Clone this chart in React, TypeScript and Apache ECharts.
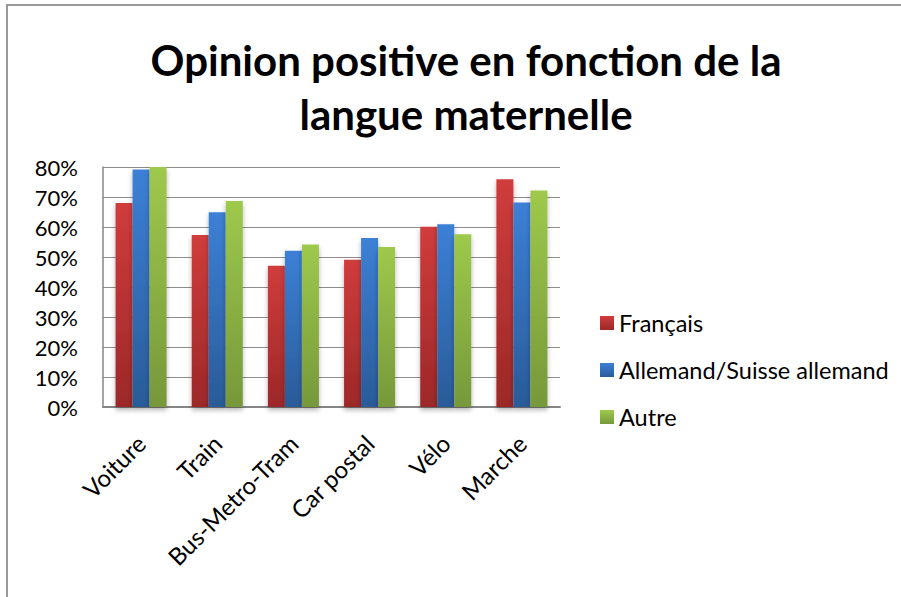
import React, { useEffect, useRef } from "react";
import * as echarts from "echarts";

const categories = ["Voiture", "Train", "Bus-Metro-Tram", "Car postal", "Vélo", "Marche"];
const seriesNames = ["Français", "Allemand/Suisse allemand", "Autre"];
const francais = [0.68, 0.573, 0.471, 0.491, 0.601, 0.759];
const allemand = [0.792, 0.649, 0.521, 0.563, 0.609, 0.682];
const autre = [0.80, 0.687, 0.542, 0.533, 0.576, 0.722];
const yTicks = { min: 0, max: 0.8, interval: 0.1 };

const FONT = "Lato, 'Noto Sans', sans-serif";

const grad = (top: string, bottom: string) =>
  new echarts.graphic.LinearGradient(0, 0, 0, 1, [
    { offset: 0, color: top },
    { offset: 1, color: bottom },
  ]);

const colorsTop = ["#d03c3c", "#3c80d6", "#9ec94c"];
const colorsBottom = ["#9c2828", "#2a5b98", "#76983a"];

export default function App() {
  const ref = useRef<HTMLDivElement>(null);
  useEffect(() => {
    if (!ref.current) return;
    const chart = echarts.init(ref.current, undefined, { renderer: "svg" });
    const values = [francais, allemand, autre];
    chart.setOption({
      animation: false,
      backgroundColor: "#ffffff",
      title: {
        text: "Opinion positive en fonction de la\nlangue maternelle",
        left: 466,
        top: 33,
        textAlign: "center",
        padding: 0,
        textStyle: {
          fontFamily: FONT,
          fontWeight: "bold",
          fontSize: 42,
          lineHeight: 54,
          color: "#000",
        },
      },
      graphic: [
        {
          type: "rect",
          shape: { x: 7, y: 5, width: 1200, height: 1200 },
          style: { fill: "none", stroke: "#999999", lineWidth: 2 },
          silent: true,
        },
      ],
      legend: {
        orient: "vertical",
        left: 600,
        top: 311,
        padding: 0,
        itemWidth: 14,
        itemHeight: 14,
        itemGap: 23,
        icon: "rect",
        data: seriesNames,
        textStyle: { fontFamily: FONT, fontSize: 23.5, lineHeight: 23, color: "#000" },
      },
      grid: { left: 103, right: 341, top: 167, bottom: 190, containLabel: false },
      xAxis: {
        type: "category",
        data: categories,
        axisLine: { show: true, lineStyle: { color: "#868686", width: 2 } },
        axisTick: { show: false },
        axisLabel: {
          rotate: 45,
          margin: 32,
          fontFamily: FONT,
          fontSize: 24,
          color: "#000",
          interval: 0,
        },
      },
      yAxis: {
        type: "value",
        min: yTicks.min,
        max: yTicks.max,
        interval: yTicks.interval,
        axisLine: { show: true, lineStyle: { color: "#868686", width: 1.5 } },
        axisTick: { show: false },
        axisLabel: {
          margin: 25,
          fontFamily: FONT,
          fontSize: 22,
          color: "#000",
          formatter: (v: number) => Math.round(v * 100) + "%",
        },
        splitLine: { show: true, lineStyle: { color: "#8c8c8c", width: 1 } },
      },
      series: seriesNames.map((name, i) => ({
        name,
        type: "bar",
        data: values[i],
        barGap: "0%",
        barCategoryGap: "33%",
        itemStyle: {
          color: grad(colorsTop[i], colorsBottom[i]),
          shadowBlur: 5,
          shadowColor: "rgba(0,0,0,0.3)",
          shadowOffsetY: 3,
        },
      })),
    });
    return () => chart.dispose();
  }, []);
  return (
    <div
      ref={ref}
      style={{ position: "absolute", left: 0, top: 0, width: 901, height: 597 }}
    />
  );
}
